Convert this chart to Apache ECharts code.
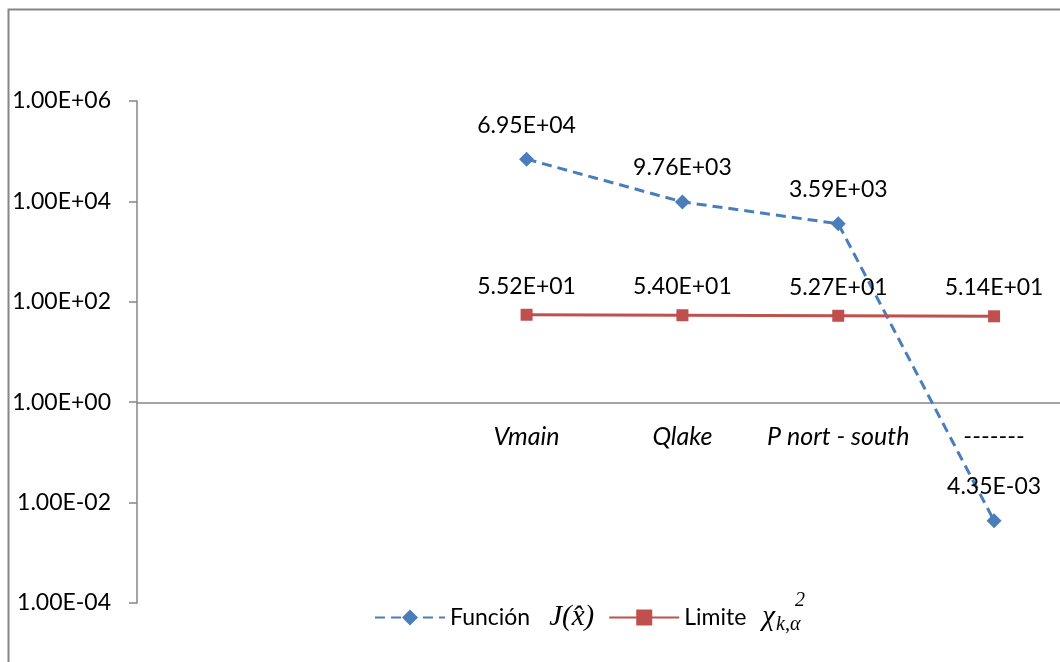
<!DOCTYPE html>
<html>
<head>
<meta charset="utf-8">
<script src="https://cdn.jsdelivr.net/npm/echarts@6/dist/echarts.min.js"></script>
<style>
  html, body { margin: 0; padding: 0; background: #fff; overflow: hidden; }
  #chart { width: 1072px; height: 662px; }
</style>
</head>
<body>
<div id="chart"></div>
<script>
var categories = ['', '', 'Vmain', 'Qlake', 'P nort - south', '-------'];
var funcion = [null, null, 69500, 9760, 3590, 0.00435];
var limite = [null, null, 55.2, 54.0, 52.7, 51.4];
var yMin = 1e-4, yMax = 1e6;

(function(){
  var c = echarts.init(document.getElementById('chart'));
  var axisCol = '#868686';
  var blue = '#4a7ebb';
  var red = '#c0504d';
  var font = 'Lato, "Open Sans", sans-serif';
  var mathFont = '"Liberation Serif", serif';

  function sci(v) {
    var s = Number(v).toExponential(2).toUpperCase();
    return s.replace(/E([+-])(\d)$/, 'E$10$2');
  }

  c.setOption({
    animation: false,
    grid: { left: 137, top: 101, bottom: 59, right: 0, containLabel: false },
    xAxis: {
      type: 'category',
      data: categories,
      offset: -200,
      axisLine: { lineStyle: { color: axisCol, width: 1.5 } },
      axisTick: { length: 6, lineStyle: { color: axisCol, width: 1.5 } },
      axisLabel: { color: '#000', fontFamily: font, fontStyle: 'italic', fontSize: 25, margin: 21, interval: 0 },
      splitLine: { show: false }
    },
    yAxis: {
      type: 'log',
      logBase: 10,
      min: yMin,
      max: yMax,
      interval: 2,
      axisLine: { show: true, lineStyle: { color: axisCol, width: 1.5 } },
      axisTick: { show: true, length: 8, lineStyle: { color: axisCol, width: 1.5 } },
      axisLabel: { color: '#000', fontFamily: font, fontSize: 23, margin: 26, formatter: sci },
      splitLine: { show: false },
      minorTick: { show: false }
    },
    legend: {
      left: 369,
      top: 598,
      itemWidth: 70,
      itemHeight: 20,
      itemGap: 14,
      formatter: function(name) {
        if (name === 'Función') return '{t|Función}{m|J(x̂)}';
        return '{t|Limite}{c|χ}{s|k,α}';
      },
      textStyle: {
        color: '#000',
        rich: {
          t: { fontFamily: font, fontSize: 23, color: '#000' },
          m: { fontFamily: mathFont, fontStyle: 'italic', fontSize: 29, color: '#000', padding: [0, 0, 0, 19] },
          c: { fontFamily: mathFont, fontStyle: 'italic', fontSize: 29, color: '#000', padding: [0, 0, 0, 16] },
          s: { fontFamily: mathFont, fontStyle: 'italic', fontSize: 20, color: '#000', padding: [14, 0, 0, 1] }
        }
      },
      data: ['Función', 'Limite']
    },
    series: [
      {
        name: 'Función',
        type: 'line',
        data: funcion,
        symbol: 'diamond',
        symbolSize: 15,
        itemStyle: { color: blue },
        lineStyle: { color: blue, width: 3, type: [10, 6] },
        label: { show: true, position: 'top', distance: 15, formatter: function(p){ return sci(p.value); },
          color: '#000', fontFamily: font, fontSize: 23 }
      },
      {
        name: 'Limite',
        type: 'line',
        data: limite,
        symbol: 'rect',
        symbolSize: 12,
        itemStyle: { color: red },
        lineStyle: { color: red, width: 3 },
        label: { show: true, position: 'top', distance: 11, formatter: function(p){ return sci(p.value); },
          color: '#000', fontFamily: font, fontSize: 23 }
      }
    ],
    graphic: [
      { type: 'rect', silent: true, shape: { x: 8.5, y: 9.5, width: 1200, height: 800 },
        style: { fill: null, stroke: axisCol, lineWidth: 2 } },
      { type: 'text', left: 795, top: 591,
        style: { text: '2', fill: '#000', font: 'italic 20px "Liberation Serif", serif' } }
    ]
  });
})();
</script>
</body>
</html>
